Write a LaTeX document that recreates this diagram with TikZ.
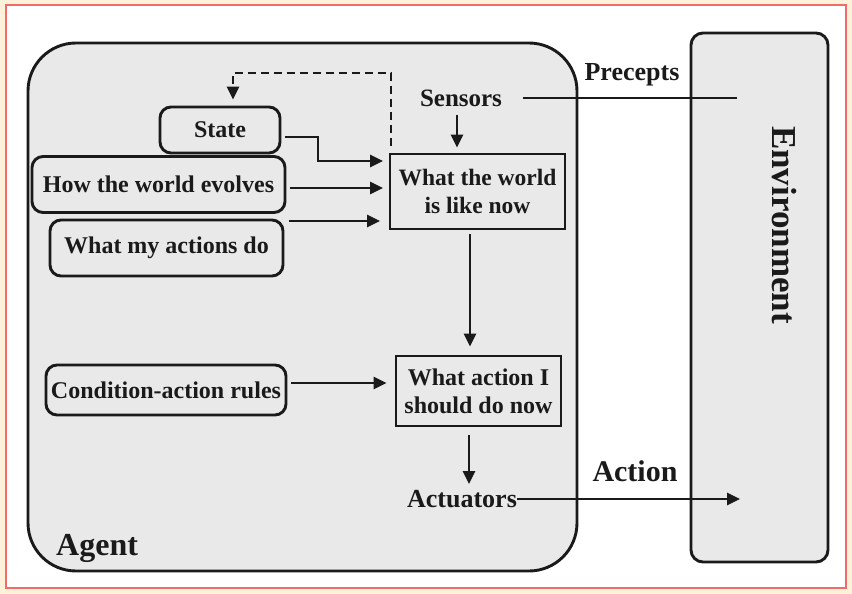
\documentclass[tikz,border=0pt]{standalone}
\usepackage{fontspec}
\setmainfont{Liberation Serif}
\usetikzlibrary{arrows.meta}
\definecolor{bgc}{HTML}{FEF1DA}
\definecolor{framec}{HTML}{F26B6B}
\definecolor{boxg}{HTML}{E9E9E9}
\definecolor{ink}{HTML}{1A1A1A}
\newcommand\fsz[1]{\fontsize{#1}{28}\selectfont\bfseries}
\begin{document}
\begin{tikzpicture}[x=1pt,y=-1pt,
  rbox/.style={draw=ink, line width=2.9pt, fill=boxg, rounded corners=11pt, text=ink, inner sep=0pt, font=\fsz{24}},
  sqbox/.style={draw=ink, line width=2.9pt, fill=boxg, text=ink, inner sep=0pt, align=center, font=\fsz{23.5}},
  big/.style={draw=ink, line width=2.9pt, fill=boxg, inner sep=0pt},
  lbl/.style={text=ink, inner sep=0pt},
  arr/.style={draw=ink, line width=2.7pt, -{Triangle[length=13pt,width=12pt]}},
  dsh/.style={draw=ink, line width=2.7pt, dash pattern=on 8pt off 5pt, -{Triangle[length=13pt,width=12pt]}},
  plain/.style={draw=ink, line width=2.7pt}]
\useasboundingbox (0,0) rectangle (852,594);
\fill[bgc] (0,0) rectangle (852,594);
\filldraw[fill=white, draw=framec, line width=1.5pt] (6,5) rectangle (846,588);

% containers
\node[big, rounded corners=48pt, minimum width=549pt, minimum height=528pt] (agent) at (302.5,307) {};
\node[big, rounded corners=12pt, minimum width=137pt, minimum height=529pt] (env) at (759.5,297.5) {};

% labels
\node[lbl, font=\fsz{35}, rotate=-90] (envlbl) at (784,225) {Environment};
\node[lbl, font=\fsz{32}, anchor=base west] (agentlbl) at (56,555) {Agent};
\node[lbl, font=\fsz{26}] (precepts) at (632,75) {Precepts};
\node[lbl, font=\fsz{25}] (sensors) at (461,98) {Sensors};
\node[lbl, font=\fsz{26}] (actuators) at (462,499) {Actuators};
\node[lbl, font=\fsz{30}] (actionlbl) at (635,471) {Action};

% boxes
\node[rbox, minimum width=120pt, minimum height=46pt] (state) at (220,130) {State};
\node[rbox, minimum width=253pt, minimum height=56pt] (evolves) at (158.5,184.5) {How the world evolves};
\node[rbox, minimum width=233pt, minimum height=56pt] (mydo) at (166.5,248) {What my actions do};
\node[rbox, minimum width=240pt, minimum height=50pt] (rules) at (166,390) {Condition-action rules};
\node[sqbox, minimum width=175pt, minimum height=75pt] (world) at (477.5,191.5) {What the world\\is like now};
\node[sqbox, font=\fsz{24}, minimum width=165pt, minimum height=70pt] (todo) at (478.5,391) {What action I\\should do now};

% free ends
\coordinate (envin) at (737,98);
\coordinate (envact) at (740,499);
\coordinate (stateturn) at (318,137);
\coordinate (statein) at (383,161);
\coordinate (evin) at (383,188);
\coordinate (mdin) at (380,221);
\coordinate (dtop) at (391,73);
\coordinate (dleft) at (233,73);

% connectors
\draw[plain] ([xshift=21pt]sensors.east) -- (envin);
\draw[arr] ([yshift=-8pt]sensors.south -| 457,0) -- ([yshift=5pt]world.north -| 457,0);
\draw[arr] ([xshift=4pt]state.east |- stateturn) -- (stateturn) |- (statein);
\draw[arr] ([xshift=4pt]evolves.east |- evin) -- (evin);
\draw[arr] ([xshift=5pt]mydo.east |- mdin) -- (mdin);
\draw[dsh] ([yshift=7pt]world.north -| dtop) -- (dtop) -- (dleft) -- ([yshift=6pt]state.north -| dleft);
\draw[arr] ([yshift=-4pt]world.south -| 470,0) -- ([yshift=8pt]todo.north -| 470,0);
\draw[arr] ([xshift=4pt]rules.east |- 0,383) -- ([xshift=-8pt]todo.west |- 0,383);
\draw[arr] ([yshift=-8pt]todo.south -| 469,0) -- ([yshift=6pt]actuators.north -| 469,0);
\draw[arr] (actuators.east |- envact) -- (envact);
\end{tikzpicture}
\end{document}
